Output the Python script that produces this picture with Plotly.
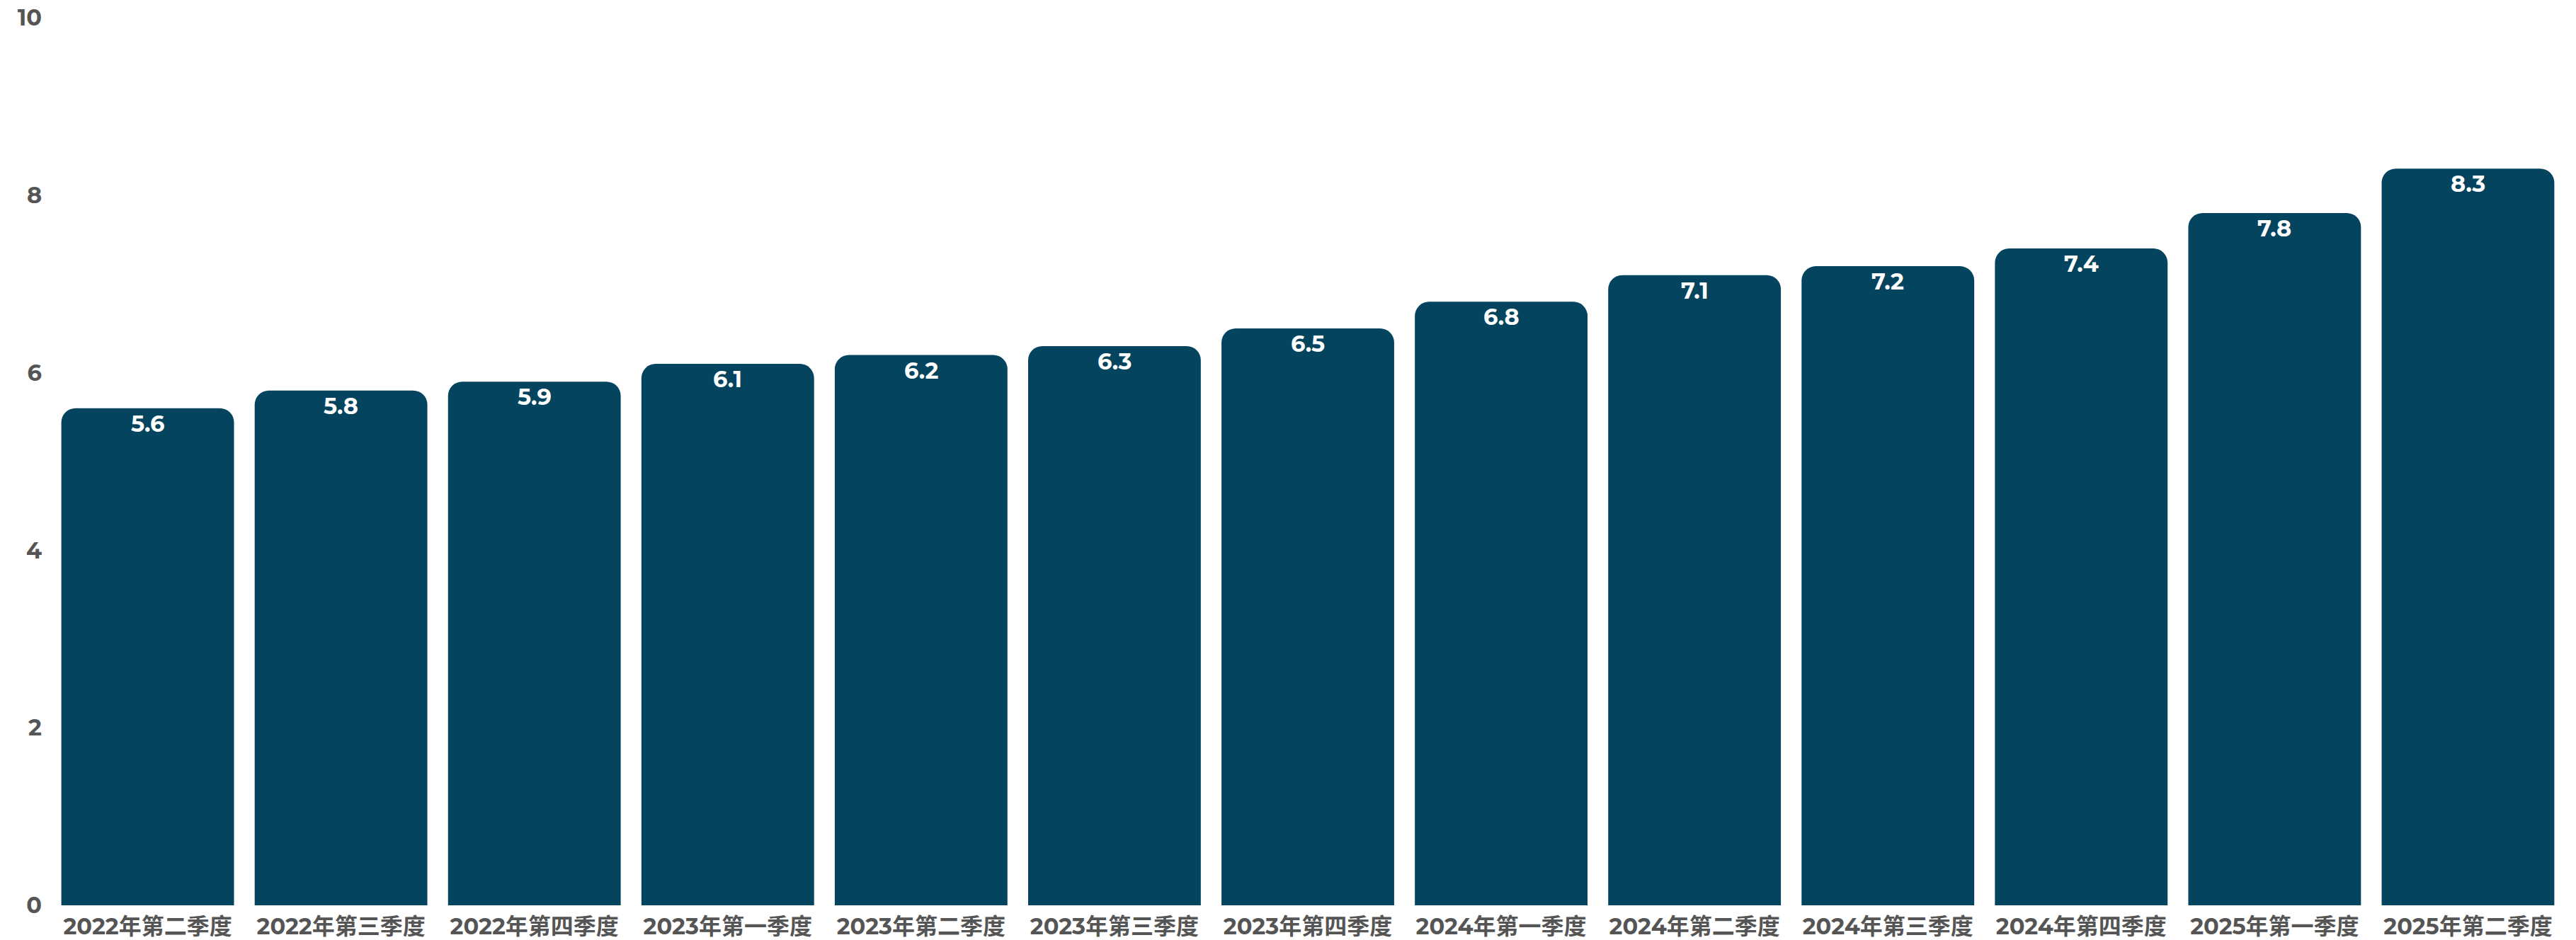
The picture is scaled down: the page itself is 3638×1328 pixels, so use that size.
import plotly.graph_objects as go

categories = ["2022年第二季度", "2022年第三季度", "2022年第四季度", "2023年第一季度",
              "2023年第二季度", "2023年第三季度", "2023年第四季度", "2024年第一季度",
              "2024年第二季度", "2024年第三季度", "2024年第四季度", "2025年第一季度",
              "2025年第二季度"]
values = [5.6, 5.8, 5.9, 6.1, 6.2, 6.3, 6.5, 6.8, 7.1, 7.2, 7.4, 7.8, 8.3]
y_ticks = [0, 2, 4, 6, 8, 10]

FONT = "Montserrat, Lato, 'Noto Sans CJK SC', sans-serif"

fig = go.Figure()
fig.add_trace(go.Bar(
    x=categories,
    y=values,
    marker=dict(color="#05445E", line=dict(width=0)),
    hoverinfo="skip",
))

for c, v in zip(categories, values):
    fig.add_annotation(
        x=c, y=v, xref="x", yref="y",
        text=f"{v:.1f}", showarrow=False,
        yanchor="top", xanchor="center", yshift=0,
        font=dict(family=FONT, size=32, color="white", weight="bold"),
    )

fig.update_layout(
    width=3638, height=1328,
    margin=dict(l=72, r=16, t=25, b=49),
    paper_bgcolor="white", plot_bgcolor="white",
    bargap=0.107,
    barcornerradius=20,
    showlegend=False,
    font=dict(family=FONT, color="#555555"),
)
fig.update_xaxes(
    range=[-0.5, len(categories) - 0.5],
    showgrid=False, showline=False, zeroline=False, automargin=False,
    tickfont=dict(family=FONT, size=32, color="#555555", weight="bold"),
    ticks="", ticklabelstandoff=8,
)
fig.update_yaxes(
    range=[0, 10], tickvals=y_ticks, showgrid=False, showline=False, zeroline=False,
    automargin=False,
    tickfont=dict(family=FONT, size=32, color="#555555", weight="bold"),
    ticks="", ticklabelstandoff=12,
)

fig.write_html("out.html")
